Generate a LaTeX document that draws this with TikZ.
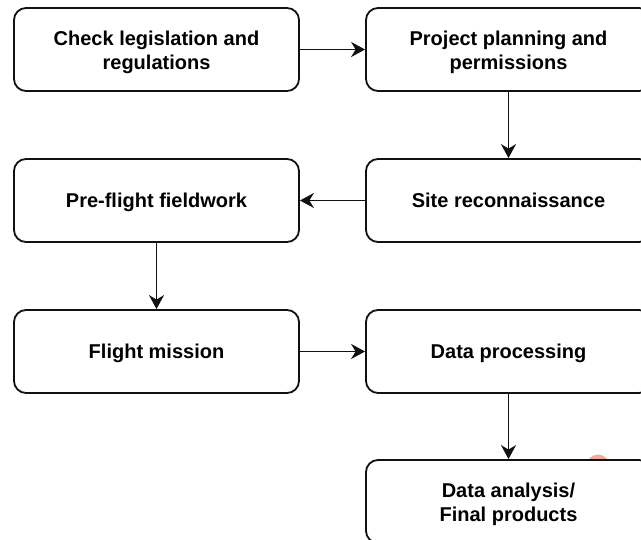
\documentclass[tikz,border=0pt]{standalone}
\usepackage{fontspec}
\setmainfont{Liberation Sans}
\usetikzlibrary{arrows.meta}
\definecolor{edge}{HTML}{111111}
\definecolor{blob}{HTML}{F4AA9A}
% struts so that two-line labels sit on 24pt line boxes
\newcommand{\firstln}{\rule{0pt}{20.7pt}}
\newcommand{\lastln}{\rule[-4.5pt]{0pt}{4.5pt}}
\tikzset{
  stepbox/.style={draw=edge, line width=1.8pt, fill=white, rounded corners=12pt,
    minimum width=285pt, minimum height=83pt, align=center,
    font=\fontsize{20}{24}\selectfont\bfseries, inner sep=0pt},
  oneline/.style={stepbox, text depth=0pt},
  flow/.style={draw=edge, line width=1.8pt,
    -{Stealth[length=14pt,width=15pt,inset=4.5pt]}}
}
\begin{document}
\begin{tikzpicture}[x=1pt, y=-1pt]
  \useasboundingbox (0,0) rectangle (641,540);
  \clip (0,0) rectangle (641,540);
  % small salmon mark peeking above the last box
  \fill[blob] (598,466) circle (11.5);
  % process boxes
  \node[stepbox] (legis)  at (156.5, 49.5)  {\firstln Check legislation and\\regulations\lastln};
  \node[stepbox] (plan)   at (508.5, 49.5)  {\firstln Project planning and\\permissions\lastln};
  \node[oneline] (recon)  at (508.5, 200.5) {Site reconnaissance};
  \node[oneline] (pre)    at (156.5, 200.5) {Pre-flight fieldwork};
  \node[oneline] (flight) at (156.5, 351.5) {Flight mission};
  \node[oneline] (proc)   at (508.5, 351.5) {Data processing};
  \node[stepbox] (final)  at (508.5, 501.5) {\firstln Data analysis/\\Final products\lastln};
  % connectors
  \draw[flow] (legis) -- (plan);
  \draw[flow] (plan) -- (recon);
  \draw[flow] (recon) -- (pre);
  \draw[flow] (pre) -- (flight);
  \draw[flow] (flight) -- (proc);
  \draw[flow] (proc) -- (final);
\end{tikzpicture}
\end{document}
